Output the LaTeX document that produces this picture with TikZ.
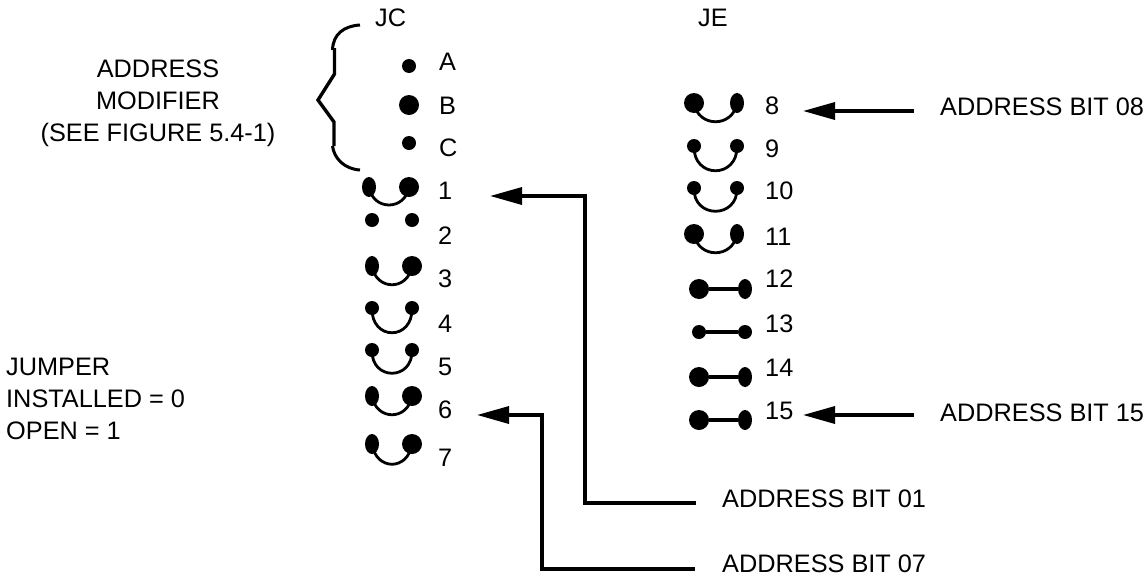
\documentclass[tikz,border=0pt]{standalone}
\usepackage{fontspec}
\setmainfont{Liberation Sans}
\usetikzlibrary{arrows.meta,shapes.geometric,calc}
\tikzset{
  txt/.style={inner sep=0pt,anchor=base west,font=\fontsize{25.3}{32}\selectfont},
  block/.style={txt,anchor=center,align=center},
  blockl/.style={txt,anchor=west,align=left},
  sdot/.style={circle,fill=black,inner sep=0pt,minimum size=14pt},
  bdot/.style={circle,fill=black,inner sep=0pt,minimum size=20pt},
  edot/.style={ellipse,fill=black,inner sep=0pt,minimum width=14pt,minimum height=20pt},
  jump/.style={line width=2.8pt},
  link/.style={line width=3.2pt},
  lead/.style={line width=3.4pt,-{Triangle[length=32pt,width=17pt,sep=0pt]}},
  brace/.style={line width=3pt,line join=miter}
}
\newcommand{\jumper}[8]{% name, lx, rx, y, lstyle, rstyle, ctrl dy, ctrl inset
  \node[#5] (#1l) at (#2,#4) {};
  \node[#6] (#1r) at (#3,#4) {};
  \draw[jump] (#1l.center) .. controls ($(#1l.center)+(#8,#7)$) and ($(#1r.center)+(-#8,#7)$) .. (#1r.center);
}
\begin{document}
\begin{tikzpicture}[x=1pt,y=-1pt]
\useasboundingbox (0,0) rectangle (1145,576);
% labels
\node[txt] (jc) at (375,26) {JC};
\node[txt] (je) at (698,26) {JE};
\node[txt] (la) at (439,70) {A};
\node[txt] (lb) at (439,114) {B};
\node[txt] (lc) at (439,156) {C};
\node[txt] (n1) at (438,199) {1};
\node[txt] (n2) at (438,244) {2};
\node[txt] (n3) at (438,287) {3};
\node[txt] (n4) at (438,332) {4};
\node[txt] (n5) at (438,375) {5};
\node[txt] (n6) at (438,418) {6};
\node[txt] (n7) at (438,466) {7};
\node[txt] (n8) at (765,114) {8};
\node[txt] (n9) at (765,157) {9};
\node[txt] (n10) at (765,199) {10};
\node[txt] (n11) at (765,245) {11};
\node[txt] (n12) at (765,287) {12};
\node[txt] (n13) at (765,332) {13};
\node[txt] (n14) at (765,376) {14};
\node[txt] (n15) at (765,419) {15};
\node[txt] (b08) at (940,115) {ADDRESS BIT 08};
\node[txt] (b15) at (940,421) {ADDRESS BIT 15};
\node[txt] (b01) at (722,507) {ADDRESS BIT 01};
\node[txt] (b07) at (722,572) {ADDRESS BIT 07};
\node[block] (am) at (158,103) {ADDRESS\\MODIFIER\\(SEE FIGURE 5.4-1)};
\node[blockl] (jm) at (6,399) {JUMPER\\INSTALLED = 0\\OPEN = 1};
% free dots
\node[sdot] (da) at (409,66) {};
\node[bdot] (db) at (409,105) {};
\node[sdot] (dc) at (409,143) {};
\node[sdot] (d2l) at (372,220) {};
\node[sdot] (d2r) at (412,220) {};
% JC jumpers
\jumper{j1}{369}{409}{187}{edot}{bdot}{24}{4}
\jumper{j3}{372}{412}{266}{edot}{bdot}{25}{4}
\jumper{j4}{372}{412}{308}{sdot}{sdot}{33}{-1}
\jumper{j5}{372}{412}{350}{sdot}{sdot}{31}{-1}
\jumper{j6}{372}{412}{396}{edot}{bdot}{25}{4}
\jumper{j7}{372}{412}{444}{edot}{bdot}{27}{4}
% JE jumpers
\jumper{j8}{694}{737}{103}{bdot}{edot}{25}{4}
\jumper{j9}{694}{737}{146}{sdot}{sdot}{33}{-1}
\jumper{j10}{694}{737}{188}{sdot}{sdot}{31}{-1}
\jumper{j11}{694}{737}{234}{bdot}{edot}{25}{4}
% straight links
\node[bdot] (j12l) at (699,289) {}; \node[edot] (j12r) at (745,289) {};
\node[sdot] (j13l) at (699,332) {}; \node[sdot] (j13r) at (745,332) {};
\node[bdot] (j14l) at (699,377) {}; \node[edot] (j14r) at (745,377) {};
\node[bdot] (j15l) at (699,420) {}; \node[edot] (j15r) at (745,420) {};
\draw[link] (j12l) -- (j12r);
\draw[link] (j13l) -- (j13r);
\draw[link] (j14l) -- (j14r);
\draw[link] (j15l) -- (j15r);
% brace
\coordinate (bt) at (360,25);
\coordinate (bb) at (360,170);
\draw[brace] (bt) .. controls (344,26) and (333,34) .. (332.5,50);
\draw[brace,line width=3.4pt] (334.5,48) -- (334.5,74) -- (318,100) -- (334,122) -- (334,146);
\draw[brace] (332.5,146) .. controls (334,158) and (344,169) .. (bb);
% leaders
\coordinate (t1) at (490,196); \coordinate (s1) at (696,503);
\coordinate (t6) at (477,415); \coordinate (s6) at (695,569);
\coordinate (t8) at (803,111); \coordinate (s8) at (914,111);
\coordinate (t15) at (803,415); \coordinate (s15) at (914,415);
\draw[lead] (s1) -- (585,503) -- (585,196) -- (t1);
\draw[lead] (s6) -- (542,569) -- (542,415) -- (t6);
\draw[lead] (s8) -- (t8);
\draw[lead] (s15) -- (t15);
\end{tikzpicture}
\end{document}
